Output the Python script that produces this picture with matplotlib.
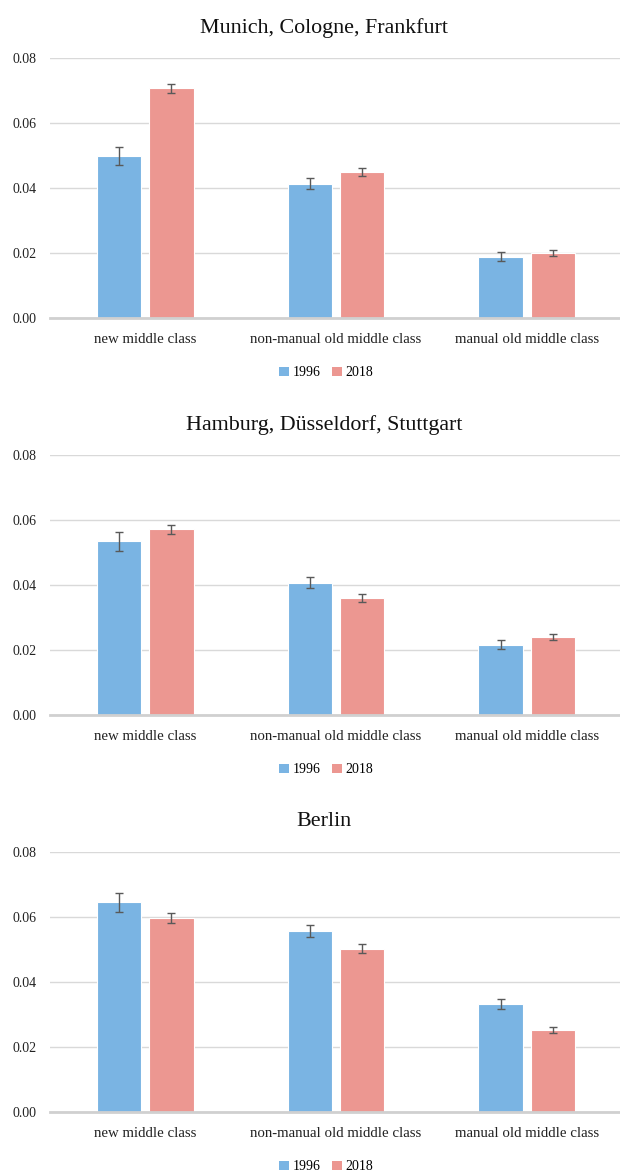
import matplotlib
matplotlib.use("Agg")
import matplotlib.pyplot as plt
from matplotlib.patches import Patch
import numpy as np

categories = ["new middle class", "non-manual old middle class", "manual old middle class"]
series_labels = ["1996", "2018"]
titles = ["Munich, Cologne, Frankfurt", "Hamburg, Düsseldorf, Stuttgart", "Berlin"]

# panel values: [1996, 2018]
munich_1996 = [0.0498, 0.0413, 0.0189]
munich_2018 = [0.0707, 0.0449, 0.0199]
munich_err_1996 = [0.0027, 0.0017, 0.0013]
munich_err_2018 = [0.0014, 0.0013, 0.0009]

hamburg_1996 = [0.0534, 0.0407, 0.0216]
hamburg_2018 = [0.0571, 0.0359, 0.0241]
hamburg_err_1996 = [0.0028, 0.0017, 0.0014]
hamburg_err_2018 = [0.0013, 0.0012, 0.0009]

berlin_1996 = [0.0645, 0.0558, 0.0333]
berlin_2018 = [0.0597, 0.0503, 0.0253]
berlin_err_1996 = [0.0029, 0.0018, 0.0016]
berlin_err_2018 = [0.0014, 0.0014, 0.0010]

yticks = [0.00, 0.02, 0.04, 0.06, 0.08]
ytick_labels = ["0.00", "0.02", "0.04", "0.06", "0.08"]

panels = [
    (munich_1996, munich_2018, munich_err_1996, munich_err_2018),
    (hamburg_1996, hamburg_2018, hamburg_err_1996, hamburg_err_2018),
    (berlin_1996, berlin_2018, berlin_err_1996, berlin_err_2018),
]

plt.rcParams['font.family'] = ['Liberation Serif', 'DejaVu Serif']

W, H = 620, 1171
fig = plt.figure(figsize=(W / 100, H / 100), dpi=100)

blue = "#7AB4E3"
red = "#EC9791"
err_color = "#595959"

# axes pixel positions (top of 0.08, bottom at 0.00)
ax_tops = [58, 455, 852]
ax_bottom_off = 260
left_px, right_px = 50, 622
title_x_px = 324

x = np.arange(len(categories))
bw = 0.232
off = 0.137

for i, (v96, v18, e96, e18) in enumerate(panels):
    top = ax_tops[i]
    bottom = top + ax_bottom_off
    ax = fig.add_axes([left_px / W, 1 - bottom / H, (right_px - left_px) / W, ax_bottom_off / H])
    ax.bar(x - off, v96, bw, color=blue, edgecolor="white", linewidth=0.8, zorder=3)
    ax.bar(x + off, v18, bw, color=red, edgecolor="white", linewidth=0.8, zorder=3)
    ax.errorbar(x - off, v96, yerr=e96, fmt="none", ecolor=err_color, elinewidth=1.0,
                capsize=3, capthick=1.0, zorder=4)
    ax.errorbar(x + off, v18, yerr=e18, fmt="none", ecolor=err_color, elinewidth=1.0,
                capsize=3, capthick=1.0, zorder=4)
    ax.set_xlim(-0.5, 2.5)
    ax.set_ylim(0, 0.08)
    ax.set_yticks(yticks)
    ax.set_yticklabels(ytick_labels)
    ax.set_xticks(x)
    ax.set_xticklabels(categories)
    ax.tick_params(axis="both", length=0, colors="#222222")
    ax.tick_params(axis="y", pad=9.8, labelsize=10)
    ax.tick_params(axis="x", pad=11, labelsize=10.7)
    ax.grid(axis="y", color="#D9D9D9", linewidth=1.0, zorder=0)
    ax.set_axisbelow(True)
    for s in ["top", "right", "left"]:
        ax.spines[s].set_visible(False)
    ax.spines["bottom"].set_color("#D0D0D0")
    ax.spines["bottom"].set_linewidth(2.0)
    ax.spines["bottom"].set_zorder(5)
    tx = (title_x_px - left_px) / (right_px - left_px)
    ax.text(tx, 1 + 30 / ax_bottom_off, titles[i], transform=ax.transAxes, ha="center",
            va="center", fontsize=15.8, color="#111111")
    handles = [Patch(facecolor=blue, edgecolor="none"), Patch(facecolor=red, edgecolor="none")]
    ax.legend(handles, series_labels, loc="upper center", bbox_to_anchor=(0.483, -0.165),
              ncol=2, frameon=False, fontsize=10, handlelength=0.7, handleheight=0.7,
              handletextpad=0.3, columnspacing=0.8, borderaxespad=0)

fig.savefig("out.png", dpi=100, facecolor="white")
